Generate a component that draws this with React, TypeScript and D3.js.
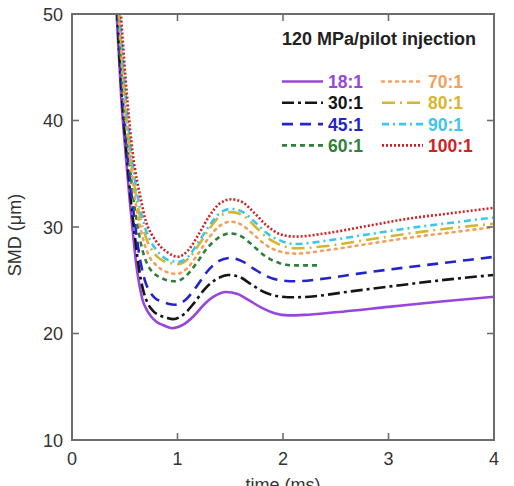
import React from "react";
import * as d3 from "d3";

const T_TICKS = [0, 1, 2, 3, 4];
const SMD_TICKS = [10, 20, 30, 40, 50];

const LEGEND_TITLE = "120 MPa/pilot injection";
const SERIES_NAMES = ["18:1", "30:1", "45:1", "60:1", "70:1", "80:1", "90:1", "100:1"];
const SERIES_COLORS = ["#9646dc", "#151515", "#2424cc", "#2f7f3a", "#f2a060", "#d6b62e", "#3cc6ee", "#d02222"];
const SERIES_DASH = ["none", "12,4,3,4", "11,7", "5,4", "2,5", "13,5,2,5", "7,4,2,4", "2,2"];
const SERIES_CAP = ["butt", "butt", "butt", "butt", "round", "butt", "butt", "butt"];

const smd18: [number, number][] = [[0.42,50.5],[0.468,41.9],[0.507,37],[0.547,32.5],[0.58,29.2],[0.61,26.4],[0.64,24.5],[0.67,23.1],[0.71,22.2],[0.75,21.6],[0.8,21.1],[0.86,20.8],[0.95,20.5],[1.05,20.8],[1.15,21.6],[1.25,22.7],[1.35,23.5],[1.46,23.9],[1.57,23.7],[1.68,23.1],[1.8,22.4],[1.92,21.9],[2.05,21.7],[2.2,21.75],[2.5,22.0],[3.0,22.5],[3.5,23.0],[4.0,23.45]];
const smd30: [number, number][] = [[0.425,50.5],[0.475,41.9],[0.516,37],[0.558,32.5],[0.592,29.5],[0.622,27],[0.652,25.1],[0.682,23.8],[0.72,22.8],[0.77,22.1],[0.83,21.7],[0.89,21.5],[0.96,21.35],[1.06,21.8],[1.16,22.9],[1.26,24.2],[1.37,25.1],[1.48,25.5],[1.59,25.3],[1.7,24.6],[1.82,23.9],[1.95,23.5],[2.1,23.4],[2.3,23.5],[2.6,23.9],[3.0,24.4],[3.5,25.0],[4.0,25.5]];
const smd45: [number, number][] = [[0.43,50.5],[0.482,41.9],[0.525,37],[0.57,32.5],[0.604,29.8],[0.634,27.6],[0.664,26],[0.7,24.7],[0.74,23.9],[0.79,23.3],[0.85,23.0],[0.91,22.8],[0.98,22.7],[1.08,23.2],[1.18,24.4],[1.28,25.8],[1.39,26.8],[1.5,27.1],[1.61,26.8],[1.72,26.1],[1.84,25.4],[1.97,25.0],[2.12,24.9],[2.35,25.1],[2.7,25.6],[3.0,26.0],[3.5,26.6],[4.0,27.2]];
const smd60: [number, number][] = [[0.435,50.5],[0.49,41.9],[0.535,37],[0.585,32.5],[0.62,30.2],[0.65,28.6],[0.68,27.4],[0.72,26.4],[0.77,25.7],[0.83,25.3],[0.9,25.0],[0.98,24.9],[1.08,25.4],[1.18,26.6],[1.28,28],[1.39,29.0],[1.5,29.4],[1.61,29.1],[1.72,28.2],[1.84,27.2],[1.97,26.6],[2.1,26.4],[2.36,26.4]];
const smd70: [number, number][] = [[0.44,50.5],[0.497,41.9],[0.543,37],[0.6,32.5],[0.635,30.5],[0.665,29.2],[0.7,28],[0.74,27.1],[0.79,26.5],[0.85,26.0],[0.92,25.7],[0.99,25.6],[1.09,26.1],[1.19,27.4],[1.29,28.9],[1.4,30.1],[1.5,30.5],[1.61,30.2],[1.72,29.3],[1.84,28.3],[1.97,27.7],[2.12,27.5],[2.4,27.8],[2.8,28.4],[3.2,29.0],[3.6,29.5],[4.0,30.0]];
const smd80: [number, number][] = [[0.445,50.5],[0.505,41.9],[0.552,37],[0.615,32.5],[0.652,30.6],[0.685,29.5],[0.72,28.5],[0.76,27.8],[0.81,27.2],[0.87,26.8],[0.94,26.6],[1.0,26.5],[1.1,27.0],[1.2,28.3],[1.3,29.8],[1.4,31.0],[1.51,31.4],[1.62,31.1],[1.73,30.1],[1.85,29.0],[1.98,28.3],[2.12,28.0],[2.4,28.2],[2.8,28.8],[3.2,29.4],[3.6,29.9],[4.0,30.3]];
const smd90: [number, number][] = [[0.45,50.5],[0.512,41.9],[0.56,37],[0.63,32.5],[0.668,30.8],[0.7,29.7],[0.74,28.8],[0.78,28.1],[0.83,27.5],[0.89,27.0],[0.95,26.8],[1.0,26.7],[1.1,27.2],[1.2,28.6],[1.3,30.1],[1.4,31.3],[1.51,31.7],[1.62,31.4],[1.73,30.5],[1.85,29.4],[1.98,28.7],[2.12,28.4],[2.4,28.7],[2.8,29.3],[3.2,29.9],[3.6,30.4],[4.0,30.9]];
const smd100: [number, number][] = [[0.46,50.5],[0.525,41.9],[0.575,37],[0.655,32.5],[0.69,30.9],[0.72,30.0],[0.755,29.3],[0.795,28.7],[0.845,28.1],[0.895,27.7],[0.95,27.35],[1.0,27.2],[1.1,27.8],[1.2,29.3],[1.3,31.0],[1.4,32.2],[1.51,32.6],[1.62,32.3],[1.73,31.3],[1.85,30.1],[1.98,29.3],[2.12,29.1],[2.4,29.4],[2.8,30.1],[3.2,30.8],[3.6,31.3],[4.0,31.8]];

const SERIES_DATA = [smd18, smd30, smd45, smd60, smd70, smd80, smd90, smd100];

const W = 514, H = 486;
const L = 72, R = 494, T = 14, B = 440;
const FONT = "'Liberation Sans', Arial, Helvetica, sans-serif";
const AXIS = "#6c6c6c";

export default function App() {
  const x = d3.scaleLinear().domain([0, 4]).range([L, R]);
  const y = d3.scaleLinear().domain([10, 50]).range([B, T]);
  const line = d3.line<[number, number]>().x(d => x(d[0])).y(d => y(d[1])).curve(d3.curveMonotoneX);
  const tickLen = 7;

  return (
    <svg width={W} height={H} style={{ position: "absolute", left: 0, top: 0, background: "#fff" }} fontFamily={FONT}>
      <defs>
        <clipPath id="plot">
          <rect x={L} y={T} width={R - L} height={B - T} />
        </clipPath>
      </defs>
      <g clipPath="url(#plot)">
        {SERIES_DATA.map((d, i) => (
          <path key={i} d={line(d) || ""} fill="none" stroke={SERIES_COLORS[i]} strokeWidth={2.6}
            strokeDasharray={SERIES_DASH[i]} strokeLinecap={SERIES_CAP[i] as any} />
        ))}
      </g>
      <rect x={L} y={T} width={R - L} height={B - T} fill="none" stroke={AXIS} strokeWidth={2} />
      {T_TICKS.filter(t => t > 0 && t < 4).map(t => (
        <g key={"xt" + t} stroke={AXIS} strokeWidth={1.6}>
          <line x1={x(t)} x2={x(t)} y1={B} y2={B - tickLen} />
          <line x1={x(t)} x2={x(t)} y1={T} y2={T + tickLen} />
        </g>
      ))}
      {SMD_TICKS.filter(v => v > 10 && v < 50).map(v => (
        <g key={"yt" + v} stroke={AXIS} strokeWidth={1.6}>
          <line x1={L} x2={L + tickLen} y1={y(v)} y2={y(v)} />
          <line x1={R} x2={R - tickLen} y1={y(v)} y2={y(v)} />
        </g>
      ))}
      {T_TICKS.map(t => (
        <text key={"xl" + t} x={x(t)} y={465} textAnchor="middle" fontSize={18} fill="#333">{t}</text>
      ))}
      {SMD_TICKS.map(v => (
        <text key={"yl" + v} x={63} y={y(v) + 6.5} textAnchor="end" fontSize={18} fill="#333">{v}</text>
      ))}
      <text x={(L + R) / 2} y={491} textAnchor="middle" fontSize={18} fill="#333">time (ms)</text>
      <text transform={`translate(21,${(T + B) / 2 + 8}) rotate(-90)`} textAnchor="middle" fontSize={18} fill="#333">SMD (μm)</text>
      <text x={282} y={45} fontSize={18} fontWeight="bold" fill="#222">{LEGEND_TITLE}</text>
      {SERIES_NAMES.map((name, i) => {
        const col = Math.floor(i / 4);
        const row = i % 4;
        const lx = col === 0 ? 282 : 382;
        const by = 88 + row * 21.3;
        return (
          <g key={"lg" + i}>
            <line x1={lx} x2={lx + 41} y1={by - 6.5} y2={by - 6.5} stroke={SERIES_COLORS[i]} strokeWidth={2.6}
              strokeDasharray={SERIES_DASH[i]} strokeLinecap={SERIES_CAP[i] as any} />
            <text x={lx + 46} y={by} fontSize={17.5} fontWeight="bold" fill={SERIES_COLORS[i]}>{name}</text>
          </g>
        );
      })}
    </svg>
  );
}
